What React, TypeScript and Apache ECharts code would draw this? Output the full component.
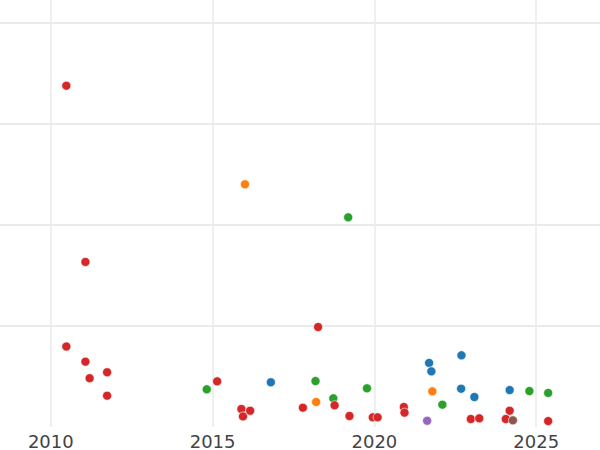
import React, { useEffect, useRef } from "react";
import * as echarts from "echarts";

// [year, value] pairs
const redPoints: number[][] = [
  [2010.48, 3.379], [2011.07, 1.634], [2010.48, 0.797], [2011.07, 0.647],
  [2011.2, 0.483], [2011.74, 0.542], [2011.74, 0.31], [2015.14, 0.452],
  [2015.89, 0.178], [2016.16, 0.161], [2015.94, 0.105], [2017.79, 0.191],
  [2018.26, 0.99], [2018.77, 0.215], [2019.23, 0.109], [2019.95, 0.096],
  [2020.1, 0.096], [2020.91, 0.198], [2020.93, 0.142], [2022.98, 0.079],
  [2023.24, 0.086], [2024.18, 0.161], [2024.06, 0.079], [2025.37, 0.059],
];
const orangePoints: number[][] = [
  [2016.0, 2.403], [2018.2, 0.248], [2021.79, 0.353],
];
const greenPoints: number[][] = [
  [2019.19, 2.076], [2014.82, 0.373], [2018.18, 0.455], [2018.73, 0.284],
  [2019.77, 0.383], [2022.1, 0.221], [2024.79, 0.356], [2025.37, 0.337],
];
const bluePoints: number[][] = [
  [2016.8, 0.443], [2021.69, 0.634], [2021.76, 0.551], [2022.69, 0.71],
  [2022.68, 0.379], [2023.09, 0.297], [2024.18, 0.366],
];
const purplePoints: number[][] = [[2021.63, 0.062]];
const brownPoints: number[][] = [[2024.28, 0.066]];

const visibleYears = [2010, 2015, 2020, 2025];

// the chart canvas is larger than the window so that the visible region
// shows 2008.5 .. 2026.9 while ticks stay on multiples of 5
const OFF_LEFT = 113.7;
const OFF_RIGHT = 101.3;
const OFF_TOP = 78;

export default function App() {
  const ref = useRef<HTMLDivElement>(null);
  useEffect(() => {
    if (!ref.current) return;
    const chart = echarts.init(ref.current, undefined, { renderer: "svg" });
    const mk = (data: number[][], color: string) => ({
      type: "scatter",
      data,
      symbolSize: 9,
      itemStyle: { color, opacity: 1, borderColor: "#ffffff", borderWidth: 0.6 },
    });
    chart.setOption({
      animation: false,
      backgroundColor: "#ffffff",
      grid: { left: 0, right: 0, top: 0, bottom: 23, containLabel: false },
      xAxis: {
        type: "value",
        min: 2005,
        max: 2030,
        interval: 5,
        axisLine: { show: false },
        axisTick: { show: false },
        axisLabel: {
          margin: 5,
          fontSize: 18,
          fontFamily: "DejaVu Sans",
          color: "#444444",
          formatter: (v: number) => (visibleYears.includes(v) ? String(v) : ""),
        },
        splitLine: { show: true, lineStyle: { color: "#ebebeb", width: 1.6 } },
      },
      yAxis: {
        type: "value",
        min: 0,
        max: 5,
        interval: 1,
        axisLine: { show: false },
        axisTick: { show: false },
        axisLabel: { show: false },
        splitLine: {
          show: true,
          showMinLine: false,
          lineStyle: { color: "#ebebeb", width: 2 },
        },
      },
      series: [
        mk(bluePoints, "#1f77b4"),
        mk(orangePoints, "#ff7f0e"),
        mk(greenPoints, "#2ca02c"),
        mk(redPoints, "#d62728"),
        mk(purplePoints, "#9467bd"),
        mk(brownPoints, "#8c564b"),
      ],
    });
    return () => chart.dispose();
  }, []);
  return (
    <div
      ref={ref}
      style={{
        width: 600 + OFF_LEFT + OFF_RIGHT,
        height: 450 + OFF_TOP,
        position: "fixed",
        left: -OFF_LEFT,
        top: -OFF_TOP,
      }}
    />
  );
}
